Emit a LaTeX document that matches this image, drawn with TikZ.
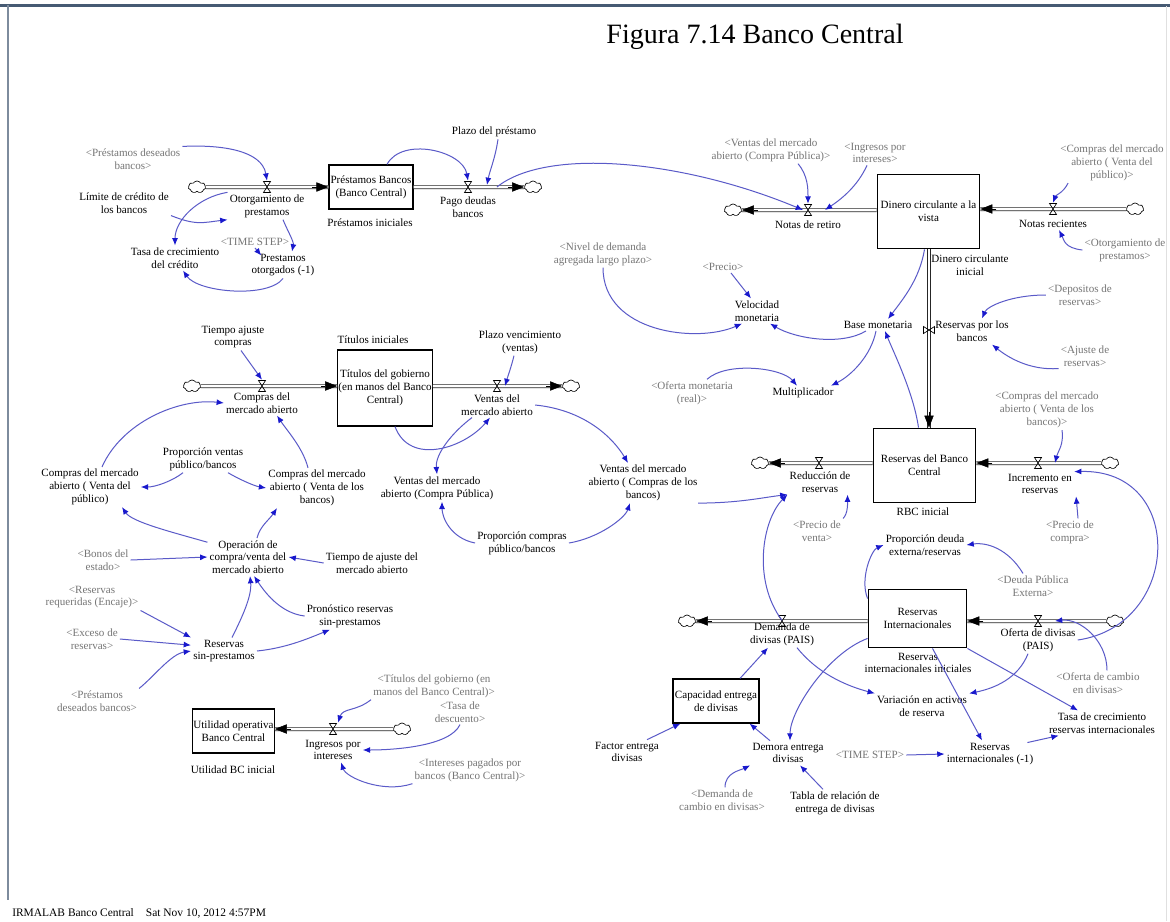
\documentclass[tikz,border=0pt]{standalone}
\usepackage{fontspec}
\setmainfont{Liberation Serif}
\usetikzlibrary{arrows.meta,shapes.symbols,calc}
\definecolor{linkc}{RGB}{90,90,200}
\definecolor{headc}{RGB}{25,25,205}
\definecolor{ghostc}{RGB}{118,118,118}
\definecolor{framec}{RGB}{70,90,115}
\newcommand\vf{\fontsize{8.3}{9.6}\selectfont}
\newcommand\tipat[2]{\draw[ftip] ($(#1)+(#2)$) -- (#1);}
\tikzset{
 var/.style={font=\vf, align=center, inner sep=1.5pt, text=black},
 ghost/.style={var, text=ghostc},
 stock/.style={draw, line width=0.9pt, font=\vf, align=center, inner sep=0.5pt, fill=white},
 cloudn/.style={cloud, cloud puffs=7, cloud puff arc=120, aspect=1.4, draw, line width=0.5pt, fill=white, inner sep=0pt, minimum width=13pt, minimum height=9pt},
 valve/.style={inner sep=0pt, minimum width=7pt, minimum height=9pt},
 pipe/.style={draw=black!85, line width=0.55pt, double=white, double distance=1.9pt},
 ftip/.style={-{Triangle[length=9pt,width=7pt]}, line width=0.4pt, black},
 link/.style={draw=linkc, line width=0.75pt, -{Latex[length=5.5pt,width=4.5pt,color=headc]}},
 hg/.pic={\draw[line width=0.5pt] (-3.5,-5.5) -- (3.5,-5.5) -- (-3.5,5.5) -- (3.5,5.5) -- cycle;},
 hgv/.pic={\draw[line width=0.5pt] (-5.5,-3.5) -- (-5.5,3.5) -- (5.5,-3.5) -- (5.5,3.5) -- cycle;}
}
\begin{document}
\begin{tikzpicture}[x=0.75pt,y=-0.75pt]
\fill[white] (0,0) rectangle (1170,921);
\useasboundingbox (0,0) rectangle (1170,921);
\draw[framec, line width=2pt] (0,5.5) -- (1170,5.5);
\draw[framec!70, line width=1.6pt] (8,5) -- (8,900);
\draw[black!12, line width=0.6pt] (1166,6) -- (1166,921);

\node[font=\fontsize{21}{24}\selectfont, anchor=base] (title) at (755,43) {Figura 7.14 Banco Central};
\node[font=\fontsize{8.6}{10}\selectfont, anchor=base west, inner sep=0pt] (foot) at (12,916) {IRMALAB Banco Central\hspace{9pt}Sat Nov 10, 2012 4:57PM};

% ---------- Prestamos
\node[stock, minimum width=63pt, minimum height=33pt] (sprest) at (371,187) {Préstamos Bancos\\(Banco Central)};
\node[var] (lprestini) at (370,223) {Préstamos iniciales};
\node[cloudn] (c1) at (197,187) {};
\node[valve] (v1) at (267,187) {};
\node[var] (otorg) at (267,206) {Otorgamiento de\\prestamos};
\node[cloudn] (c2) at (533,187) {};
\node[valve] (v2) at (468,187) {};
\node[var] (pago) at (468,207) {Pago deudas\\bancos};
\node[var] (plazo) at (494,132) {Plazo del préstamo};
\node[ghost] (pdb) at (133,159) {<Préstamos deseados\\bancos>};
\node[var] (lim) at (124,203) {Límite de crédito de\\los bancos};
\node[ghost] (ts1) at (255,242) {<TIME STEP>};
\node[var] (tasac) at (175,258) {Tasa de crecimiento\\del crédito};
\node[var] (potorg) at (283,265) {Prestamos\\otorgados (-1)};

% ---------- Dinero circulante
\node[stock, minimum width=77pt, minimum height=56pt] (sdin) at (928.5,211.5) {Dinero circulante a la\\vista};
\node[var] (ldinini) at (970,265) {Dinero circulante\\inicial};
\node[cloudn] (c3) at (733,210) {};
\node[valve] (vnr) at (808,210) {};
\node[var] (nret) at (808,225) {Notas de retiro};
\node[cloudn] (c4) at (1135,209) {};
\node[valve] (vnrec) at (1053,209) {};
\node[var] (nrec) at (1053,224) {Notas recientes};
\node[ghost] (gvmcp) at (771,150) {<Ventas del mercado\\abierto (Compra Pública)>};
\node[ghost] (gingr) at (875,153) {<Ingresos por\\intereses>};
\node[ghost] (gcvp) at (1112,163) {<Compras del mercado\\abierto ( Venta del\\público)>};
\node[ghost] (gotg) at (1125,250) {<Otorgamiento de\\prestamos>};
\node[valve, minimum width=9pt, minimum height=7pt] (vrpb) at (929,330) {};
\node[var] (rpb) at (972,331) {Reservas por los\\bancos};
\node[ghost] (gdep) at (1080,295) {<Depositos de\\reservas>};
\node[ghost] (gaj) at (1085,356) {<Ajuste de\\reservas>};

% ---------- middle
\node[ghost] (gnivel) at (603,254) {<Nivel de demanda\\agregada largo plazo>};
\node[ghost] (gprecio) at (723,267) {<Precio>};
\node[var] (vel) at (757,311) {Velocidad\\monetaria};
\node[var] (bm) at (878,325) {Base monetaria};
\node[ghost] (gofm) at (692,393) {<Oferta monetaria\\(real)>};
\node[var] (mult) at (803,393) {Multiplicador};

% ---------- Titulos
\node[stock, minimum width=70.5pt, minimum height=57pt] (stit) at (385,388) {Títulos del gobierno\\(en manos del Banco\\Central)};
\node[var] (ltitini) at (373,340) {Títulos iniciales};
\node[cloudn] (c5) at (192,386) {};
\node[valve] (vcma) at (262,386) {};
\node[var] (cma) at (262,403) {Compras del\\mercado abierto};
\node[cloudn] (c6) at (571,386) {};
\node[valve] (vvma) at (497,386) {};
\node[var] (vma) at (497,405) {Ventas del\\mercado abierto};
\node[var] (tac) at (233,337) {Tiempo ajuste\\compras};
\node[var] (pvenc) at (520,342) {Plazo vencimiento\\(ventas)};
\node[var] (pvb) at (203,459) {Proporción ventas\\público/bancos};
\node[var] (cvp) at (90,487) {Compras del mercado\\abierto ( Venta del\\público)};
\node[var] (cvb) at (317,488) {Compras del mercado\\abierto ( Venta de los\\bancos)};
\node[var] (vmcpub) at (437,488) {Ventas del mercado\\abierto (Compra Pública)};
\node[var] (vmcb) at (643,483) {Ventas del mercado\\abierto ( Compras de los\\bancos)};
\node[var] (pcpb) at (522,543) {Proporción compras\\público/bancos};
\node[var] (opcv) at (248,557) {Operación de\\compra/venta del\\mercado abierto};
\node[var] (tajm) at (372,563) {Tiempo de ajuste del\\mercado abierto};
\node[ghost] (gbonos) at (103,560) {<Bonos del\\estado>};
\node[ghost] (grreq) at (92,597) {<Reservas\\requeridas (Encaje)>};
\node[ghost] (gexc) at (92,639) {<Exceso de\\reservas>};
\node[var] (rsp) at (224,651) {Reservas\\sin-prestamos};
\node[var] (prsp) at (350,616) {Pronóstico reservas\\sin-prestamos};
\node[ghost] (gpdb2) at (97,701) {<Préstamos\\deseados bancos>};

% ---------- RBC
\node[stock, minimum width=77pt, minimum height=56pt] (srbc) at (924.5,465.5) {Reservas del Banco\\Central};
\node[var] (lrbc) at (923,512) {RBC inicial};
\node[cloudn] (c7) at (760,463) {};
\node[valve] (vrr) at (819,463) {};
\node[var] (redres) at (820,482) {Reducción de\\reservas};
\node[cloudn] (c8) at (1110,463) {};
\node[valve] (vir) at (1038,463) {};
\node[var] (ir) at (1040,484) {Incremento en\\reservas};
\node[ghost] (gcvb) at (1047,410) {<Compras del mercado\\abierto ( Venta de los\\bancos)>};
\node[ghost] (gpv) at (817,531) {<Precio de\\venta>};
\node[ghost] (gpc) at (1070,532) {<Precio de\\compra>};

% ---------- Reservas internacionales
\node[stock, minimum width=74pt, minimum height=44pt] (sri) at (917.5,618.5) {Reservas\\Internacionales};
\node[var] (lriini) at (918,663) {Reservas\\internacionales iniciales};
\node[cloudn] (c9) at (687,621) {};
\node[valve] (vdd) at (782,621) {};
\node[var] (ddl) at (782,634) {Demanda de\\divisas (PAIS)};
\node[cloudn] (c10) at (1115,621) {};
\node[valve] (vod) at (1038,621) {};
\node[var] (odp) at (1038,640) {Oferta de divisas\\(PAIS)};
\node[var] (pdeuda) at (925,545) {Proporción deuda\\externa/reservas};
\node[ghost] (gdeuda) at (1033,586) {<Deuda Pública\\Externa>};
\node[ghost] (gocd) at (1098,683) {<Oferta de cambio\\en divisas>};
\node[var] (vact) at (922,706) {Variación en activos\\de reserva};
\node[var] (tasa2) at (1102,723) {Tasa de crecimiento\\reservas internacionales};
\node[var] (ri1) at (990,754) {Reservas\\internacionales (-1)};
\node[ghost] (ts2) at (870,755) {<TIME STEP>};
\node[var] (dem) at (788,753) {Demora entrega\\divisas};
\node[var] (tabla) at (835,803) {Tabla de relación de\\entrega de divisas};
\node[ghost] (gdcd) at (722,800) {<Demanda de\\cambio en divisas>};
\node[var] (fed) at (627,752) {Factor entrega\\divisas};
\node[stock, minimum width=64.5pt, minimum height=33pt] (scap) at (716,701) {Capacidad entrega\\de divisas};

% ---------- Utilidad
\node[stock, minimum width=61pt, minimum height=33pt] (sutil) at (233.5,731) {Utilidad operativa\\Banco Central};
\node[var] (lutil) at (233,770) {Utilidad BC inicial};
\node[cloudn] (c11) at (402,729) {};
\node[valve] (vii) at (333,729) {};
\node[var] (ing) at (333,750) {Ingresos por\\intereses};
\node[ghost] (gtgb) at (434,686) {<Títulos del gobierno (en\\manos del Banco Central)>};
\node[ghost] (gtd) at (460,712) {<Tasa de\\descuento>};
\node[ghost] (gip) at (470,770) {<Intereses pagados por\\bancos (Banco Central)>};

% ---------- pipes
\draw[pipe] (c1) -- (c1 -| sprest.west);
\draw[pipe] (sprest.east |- c2) -- (c2);
\draw[pipe] (sdin.west |- c3) -- (c3);
\draw[pipe] (c4) -- (c4 -| sdin.east);
\draw[pipe] (vrpb |- sdin.south) -- (vrpb |- srbc.north);
\draw[pipe] (c5) -- (c5 -| stit.west);
\draw[pipe] (stit.east |- c6) -- (c6);
\draw[pipe] (srbc.west |- c7) -- (c7);
\draw[pipe] (c8) -- (c8 -| srbc.east);
\draw[pipe] (sri.west |- c9) -- (c9);
\draw[pipe] (c10) -- (c10 -| sri.east);
\draw[pipe] (c11) -- (c11 -| sutil.east);
\tipat{c1 -| sprest.west}{-16,0}
\tipat{c2.west}{-16,0}
\tipat{c3.east}{16,0}
\tipat{c4 -| sdin.east}{16,0}
\tipat{vrpb |- srbc.north}{0,-16}
\tipat{c5 -| stit.west}{-16,0}
\tipat{c6.west}{-16,0}
\tipat{c7.east}{16,0}
\tipat{c8 -| srbc.east}{16,0}
\tipat{c9.east}{16,0}
\tipat{c10 -| sri.east}{16,0}
\tipat{c11 -| sutil.east}{16,0}
\foreach \v in {v1,v2,vnr,vnrec,vcma,vvma,vrr,vir,vdd,vod,vii} {\pic at (\v) {hg};}
\pic at (vrpb) {hgv};

% ---------- connectors: prestamos
\draw[link] (pdb.north east) .. controls +(40,-2) and +(-5,-30) .. (v1.north);
\draw[link] (lim.south east) .. controls +(25,10) and +(-25,3) .. (otorg.south west);
\draw[link] (otorg.north west) .. controls +(-30,5) and +(0,-25) .. (tasac.north);
\draw[link] ($(otorg.south)+(16,0)$) .. controls +(4,10) and +(2,-10) .. ($(potorg.north)+(9,0)$);
\draw[link] (ts1.south) -- ($(potorg.north west)+(12,4)$);
\draw[link] (potorg.south) .. controls +(-15,20) and +(15,22) .. ($(tasac.south)+(8,0)$);
\draw[link] ($(sprest.north)+(16,0)$) .. controls +(15,-28) and +(-5,-30) .. (v2.north);
\draw[link] ($(plazo.south)+(4,0)$) .. controls +(-3,20) and +(3,-15) .. ($(v2.east)+(14,-2)$);
\draw[link] ($(v2.east)+(24,0)$) .. controls +(50,-40) and +(-120,-50) .. (vnr.west);

% ---------- dinero
\draw[link] ($(gvmcp.south)+(27,0)$) .. controls +(10,12) and +(0,-15) .. (vnr.north);
\draw[link] ($(gingr.south)+(-8,0)$) .. controls +(-10,22) and +(15,-10) .. ($(vnr.east)+(12,0)$);
\draw[link] ($(gcvp.south west)+(10,0)$) .. controls +(-5,10) and +(3,-8) .. (vnrec.north);
\draw[link] (gotg.west) .. controls +(-18,-2) and +(5,10) .. ($(nrec.south)+(6,0)$);
\draw[link] (gdep.west) .. controls +(-35,0) and +(5,-12) .. ($(rpb.north)+(10,0)$);
\draw[link] (gaj.south west) .. controls +(-30,2) and +(15,12) .. ($(rpb.south)+(20,1)$);
\draw[link] ($(sdin.south)+(-4,0)$) .. controls +(-5,30) and +(15,-20) .. ($(bm.north)+(10,0)$);
\draw[link] ($(srbc.north)+(-6,0)$) .. controls +(-5,-35) and +(8,20) .. ($(bm.south)+(7,0)$);
\draw[link] (gnivel.south) .. controls +(0,65) and +(-45,20) .. ($(vel.south)+(-15,0)$);
\draw[link] ($(gprecio.south)+(8,0)$) -- ($(vel.north)+(-6,0)$);
\draw[link] ($(bm.south)+(-12,0)$) .. controls +(-25,15) and +(25,15) .. ($(vel.south)+(13,0)$);
\draw[link] ($(gofm.north)+(15,0)$) .. controls +(20,-18) and +(-15,-18) .. ($(mult.north)+(-6,0)$);
\draw[link] ($(bm.south)+(-2,0)$) .. controls +(-5,25) and +(20,-10) .. ($(mult.north)+(28,0)$);

% ---------- titulos
\draw[link] ($(tac.south)+(8,0)$) -- (vcma.north);
\draw[link] ($(pvenc.south)+(-6,0)$) .. controls +(-3,12) and +(3,-10) .. ($(vvma.east)+(3,0)$);
\draw[link] ($(cvp.north)+(12,0)$) .. controls +(20,-45) and +(-45,-5) .. (cma.west);
\draw[link] ($(cvb.north)+(-9,0)$) .. controls +(-5,-20) and +(10,15) .. ($(cma.south)+(15,0)$);
\draw[link] ($(pvb.south)+(-20,0)$) .. controls +(-10,8) and +(15,0) .. (cvp.east);
\draw[link] ($(pvb.south)+(25,0)$) .. controls +(10,6) and +(-12,-2) .. (cvb.west);
\draw[link] (opcv.160) .. controls +(-35,-10) and +(10,15) .. ($(cvp.south)+(32,0)$);
\draw[link] ($(opcv.north)+(9,0)$) .. controls +(3,-12) and +(-8,12) .. ($(cvb.south)+(-40,0)$);
\draw[link] (gbonos.east) -- (opcv.west);
\draw[link] (tajm.west) -- (opcv.east);
\draw[link] ($(rsp.north)+(8,0)$) .. controls +(10,-20) and +(2,20) .. ($(opcv.south)+(2,0)$);
\draw[link] (prsp.west) .. controls +(-25,-3) and +(10,15) .. ($(opcv.south)+(6,0)$);
\draw[link] (grreq.south east) -- (rsp.north west);
\draw[link] (gexc.east) -- (rsp.170);
\draw[link] (gpdb2.north east) .. controls +(15,-12) and +(-20,3) .. (rsp.west);
\draw[link] (rsp.east) .. controls +(30,-3) and +(-20,8) .. ($(prsp.south)+(-20,0)$);
\draw[link] ($(stit.south)+(10,0)$) .. controls +(15,40) and +(-25,30) .. ($(vma.south)+(-7,0)$);
\draw[link] ($(vma.south)+(-25,0)$) .. controls +(-20,15) and +(-2,-20) .. (vmcpub.north);
\draw[link] (vma.east) .. controls +(50,5) and +(-15,-25) .. ($(vmcb.north)+(-15,0)$);
\draw[link] (pcpb.west) .. controls +(-25,-5) and +(0,15) .. ($(vmcpub.south)+(5,0)$);
\draw[link] (pcpb.east) .. controls +(30,-5) and +(-5,15) .. ($(vmcb.south)+(-13,0)$);
\draw[link] (vmcb.-20) .. controls +(40,0) and +(-25,3) .. (redres.south west);

% ---------- RBC
\draw[link] ($(gcvb.south)+(15,0)$) .. controls +(2,15) and +(3,-12) .. ($(vir.east)+(12,0)$);
\draw[link] (gpv.north east) .. controls +(5,-5) and +(0,8) .. ($(redres.south east)+(-5,0)$);
\draw[link] ($(gpc.north)+(8,0)$) -- ($(ir.south east)+(2,0)$);
\draw[link] (odp.east) .. controls +(104,-15) and +(112,-3) .. (ir.north east);
\draw[link] (ddl.north) .. controls +(-30,-40) and +(-25,25) .. (redres.south west);

% ---------- RI
\draw[link] ($(sri.north west)+(0,10)$) .. controls +(-8,-20) and +(-12,5) .. (pdeuda.west);
\draw[link] ($(gdeuda.north)+(-10,0)$) .. controls +(-15,-25) and +(20,-3) .. (pdeuda.east);
\draw[link] ($(gocd.north)+(9,0)$) .. controls +(0,-30) and +(25,-3) .. ($(vod.east)+(12,0)$);
\draw[link] ($(ddl.south)+(15,0)$) .. controls +(20,25) and +(-30,-8) .. (vact.north west);
\draw[link] ($(odp.south)+(-10,0)$) .. controls +(-10,25) and +(25,-5) .. (vact.north east);
\draw[link] (sri.south east) -- ($(tasa2.north)+(-24,0)$);
\draw[link] ($(sri.south)+(15,0)$) -- ($(ri1.north)+(-8,0)$);
\draw[link] ($(sri.south west)+(0,-10)$) .. controls +(-40,15) and +(0,-30) .. ($(dem.north)+(2,0)$);
\draw[link] (ts2.east) -- (ri1.west);
\draw[link] ($(ri1.north east)+(-8,2)$) -- ($(tasa2.south west)+(12,0)$);
\draw[link] ($(scap.north)+(24,0)$) -- ($(ddl.south)+(-14,0)$);
\draw[link] ($(dem.north)+(-18,0)$) -- ($(scap.south east)+(-10,0)$);
\draw[link] ($(fed.north)+(20,0)$) -- ($(scap.south west)+(8,0)$);
\draw[link] ($(gdcd.north)+(3,0)$) .. controls +(0,-15) and +(-10,5) .. (dem.south west);
\draw[link] ($(tabla.north)+(-12,0)$) -- ($(dem.south)+(12,0)$);

% ---------- Utilidad
\draw[link] (gtgb.south west) .. controls +(-15,12) and +(5,-15) .. (vii.north east);
\draw[link] (gtd.south) .. controls +(-10,22) and +(30,0) .. (ing.east);
\draw[link] (gip.south west) .. controls +(-30,10) and +(5,15) .. ($(ing.south)+(8,0)$);
\end{tikzpicture}
\end{document}
